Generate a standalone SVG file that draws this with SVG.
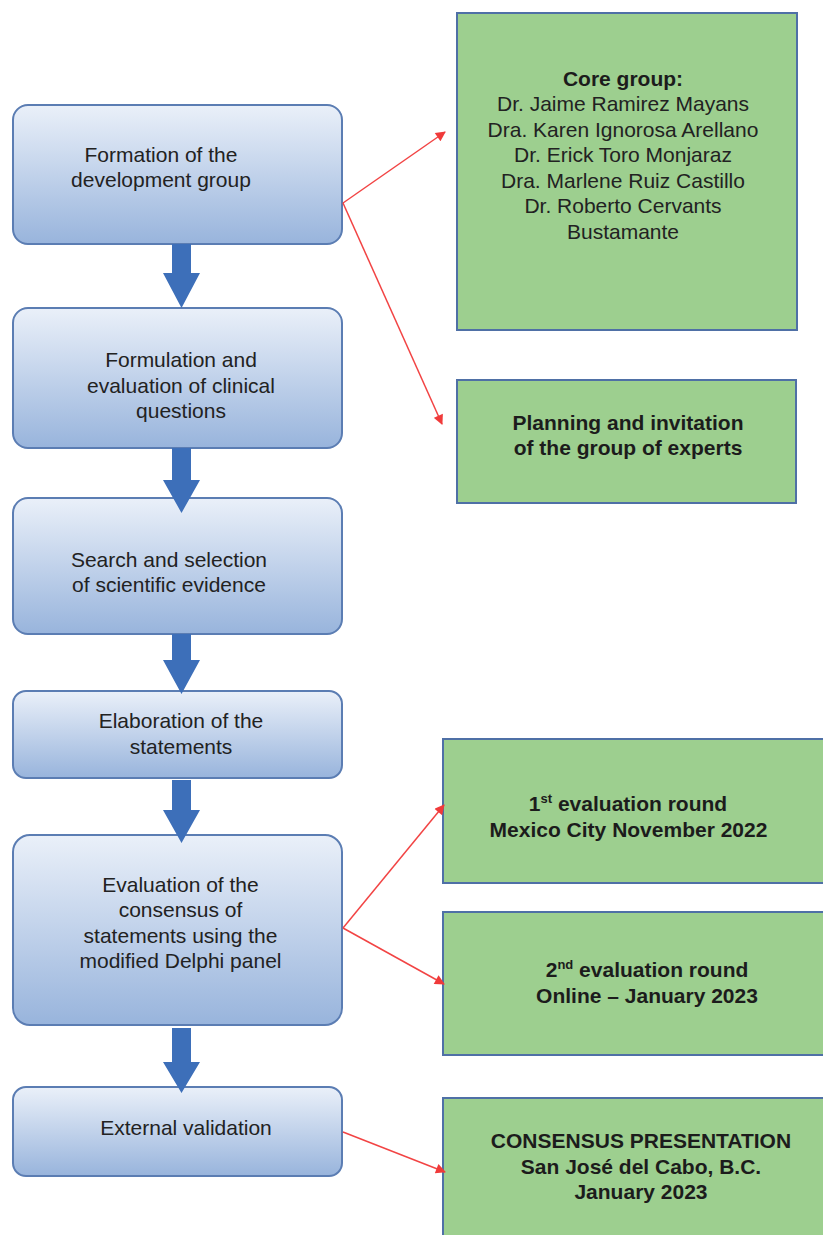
<svg xmlns="http://www.w3.org/2000/svg" width="823" height="1235" viewBox="0 0 823 1235">
<defs>
<linearGradient id="bg" x1="0" y1="0" x2="0" y2="1">
<stop offset="0" stop-color="#eaf0f9"/>
<stop offset="1" stop-color="#98b4dc"/>
</linearGradient>
<marker id="ra" viewBox="0 0 10 10" refX="9" refY="5" markerWidth="12" markerHeight="10" markerUnits="userSpaceOnUse" orient="auto">
<path d="M0,0 L10,5 L0,10 z" fill="#f03a3a"/>
</marker>
<style>
.bb{fill:url(#bg);stroke:#5b7db3;stroke-width:2}
.gb{fill:#9dcf8f;stroke:#4f70a6;stroke-width:2}
.t{font-family:"Liberation Sans",Arial,sans-serif;font-size:21px;fill:#222;text-anchor:middle}
.b{font-weight:bold;fill:#1c1c1c}
.fa{fill:#3d6fb9}
.rl{stroke:#f24444;stroke-width:1.5;fill:none;marker-end:url(#ra)}
</style>
</defs>
<rect width="823" height="1235" fill="#fff"/>

<g id="n1">
<rect class="bb" x="13" y="105" width="329" height="139" rx="15"/>
<text class="t" x="161" y="162">Formation of the</text>
<text class="t" x="161" y="187">development group</text>
</g>
<g id="n2">
<rect class="bb" x="13" y="308" width="329" height="140" rx="15"/>
<text class="t" x="181" y="367">Formulation and</text>
<text class="t" x="181" y="393">evaluation of clinical</text>
<text class="t" x="181" y="418">questions</text>
</g>
<g id="n3">
<rect class="bb" x="13" y="498" width="329" height="136" rx="15"/>
<text class="t" x="169" y="567">Search and selection</text>
<text class="t" x="169" y="592">of scientific evidence</text>
</g>
<g id="n4">
<rect class="bb" x="13" y="691" width="329" height="87" rx="13"/>
<text class="t" x="181" y="728">Elaboration of the</text>
<text class="t" x="181" y="754">statements</text>
</g>
<g id="n5">
<rect class="bb" x="13" y="835" width="329" height="190" rx="17"/>
<text class="t" x="180.5" y="892">Evaluation of the</text>
<text class="t" x="180.5" y="917">consensus of</text>
<text class="t" x="180.5" y="943">statements using the</text>
<text class="t" x="180.5" y="968">modified Delphi panel</text>
</g>
<g id="n6">
<rect class="bb" x="13" y="1087" width="329" height="89" rx="13"/>
<text class="t" x="186" y="1135">External validation</text>
</g>

<g id="g1">
<rect class="gb" x="457" y="13" width="340" height="317"/>
<text class="t b" x="623" y="86">Core group:</text>
<text class="t" x="623" y="111">Dr. Jaime Ramirez Mayans</text>
<text class="t" x="623" y="137">Dra. Karen Ignorosa Arellano</text>
<text class="t" x="623" y="162">Dr. Erick Toro Monjaraz</text>
<text class="t" x="623" y="188">Dra. Marlene Ruiz Castillo</text>
<text class="t" x="623" y="213">Dr. Roberto Cervants</text>
<text class="t" x="623" y="239">Bustamante</text>
</g>
<g id="g2">
<rect class="gb" x="457" y="380" width="339" height="123"/>
<text class="t b" x="628" y="430">Planning and invitation</text>
<text class="t b" x="628" y="455">of the group of experts</text>
</g>
<g id="g3">
<rect class="gb" x="443" y="739" width="390" height="144"/>
<text class="t b" x="628" y="811">1<tspan font-size="13" dy="-8">st</tspan><tspan dy="8"> evaluation round</tspan></text>
<text class="t b" x="628.5" y="837">Mexico City November 2022</text>
</g>
<g id="g4">
<rect class="gb" x="443" y="912" width="390" height="143"/>
<text class="t b" x="647" y="977">2<tspan font-size="13" dy="-8">nd</tspan><tspan dy="8"> evaluation round</tspan></text>
<text class="t b" x="647" y="1003">Online – January 2023</text>
</g>
<g id="g5">
<rect class="gb" x="443" y="1098" width="390" height="150"/>
<text class="t b" x="641" y="1148">CONSENSUS PRESENTATION</text>
<text class="t b" x="641" y="1174">San José del Cabo, B.C.</text>
<text class="t b" x="641" y="1199">January 2023</text>
</g>

<g id="connectors">
<path class="fa" d="M172,244 H191 V273 H200 L181.5,308 L163,273 H172 Z"/>
<path class="fa" d="M172,448 H191 V480 H200 L181.5,513 L163,480 H172 Z"/>
<path class="fa" d="M172,634 H191 V660 H200 L181.5,694 L163,660 H172 Z"/>
<path class="fa" d="M172,780 H191 V810 H200 L181.5,843 L163,810 H172 Z"/>
<path class="fa" d="M172,1028 H191 V1062 H200 L181.5,1093 L163,1062 H172 Z"/>
<line class="rl" x1="343" y1="203" x2="445" y2="132"/>
<line class="rl" x1="343" y1="203" x2="442" y2="424"/>
<line class="rl" x1="343" y1="928" x2="444" y2="805"/>
<line class="rl" x1="343" y1="928" x2="444" y2="984"/>
<line class="rl" x1="343" y1="1132" x2="445" y2="1172"/>
</g>
</svg>
